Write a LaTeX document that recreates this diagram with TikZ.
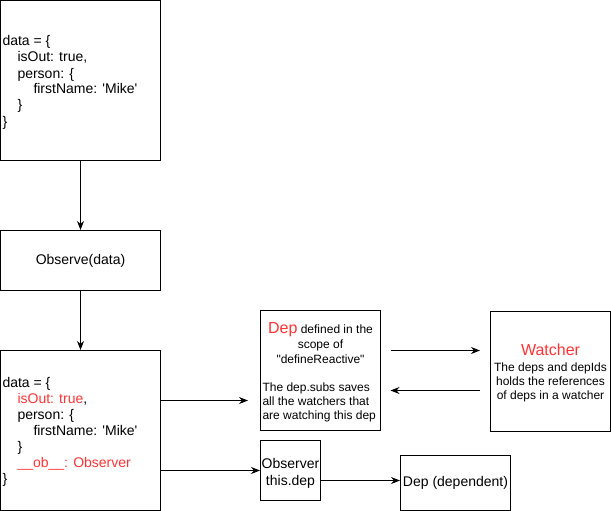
\documentclass[tikz,border=0pt]{standalone}
\usepackage{fontspec}
\setmainfont{Liberation Sans}
\usetikzlibrary{arrows.meta}

\definecolor{obsred}{RGB}{255,51,51}
\newcommand{\codefont}{\fontsize{14pt}{16pt}\selectfont}
\newcommand{\notefont}{\fontsize{12pt}{14pt}\selectfont}
\newcommand{\titlefont}{\fontsize{16pt}{18pt}\selectfont}

\begin{document}
\begin{tikzpicture}[x=1pt,y=-1pt,line width=1pt,
  >={Stealth[length=9pt,width=7pt]},
  box/.style={draw,inner sep=0pt},
  code/.style={inner sep=0pt,anchor=base west,font=\codefont},
  note/.style={inner sep=0pt,anchor=base,font=\notefont}]
  \useasboundingbox (0,0) rectangle (611,511);
  % boxes
  \node[box,minimum width=160pt,minimum height=160pt] at(80.5,80.5)(data1){};
  \node[box,minimum width=160pt,minimum height=60pt,font=\codefont] at(80.5,260.5)(observe){Observe(data)};
  \node[box,minimum width=160pt,minimum height=160pt] at(80.5,430.5)(data2){};
  \node[box,minimum width=120pt,minimum height=120pt] at(320.5,370.5)(dep){};
  \node[box,minimum width=120pt,minimum height=120pt] at(550.5,371.5)(watcher){};
  \node[box,minimum width=60pt,minimum height=60pt] at(290.5,470.5)(observer){};
  \node[box,minimum width=110pt,minimum height=55pt,font=\codefont] at(455.5,483)(dependent){Dep (dependent)};
  % data before observe
  \node[code] at(2,46)(d1a){data = \{};
  \node[code] at(17,62)(d1b){isOut: true,};
  \node[code] at(17,78)(d1c){person: \{};
  \node[code] at(33,94)(d1d){firstName: \textquotesingle Mike\textquotesingle};
  \node[code] at(17,110)(d1e){\}};
  \node[code] at(2,126)(d1f){\}};
  % data after observe
  \node[code] at(2,387)(d2a){data = \{};
  \node[code] at(17,403)(d2b){\textcolor{obsred}{isOut: true},};
  \node[code] at(17,419)(d2c){person: \{};
  \node[code] at(33,435)(d2d){firstName: \textquotesingle Mike\textquotesingle};
  \node[code] at(17,451)(d2e){\}};
  \node[code] at(17,467)(d2f){\textcolor{obsred}{\_\_ob\_\_: Observer}};
  \node[code] at(2,483)(d2g){\}};
  % dep
  \node[note] at(320.5,333)(depa){{\titlefont\textcolor{obsred}{Dep}} defined in the};
  \node[note] at(320.5,348)(depb){scope of};
  \node[note] at(320.5,363)(depc){\textquotedbl defineReactive\textquotedbl};
  \node[note,anchor=base west] at(262,391)(depd){The dep.subs saves};
  \node[note,anchor=base west] at(262,405)(depe){all the watchers that};
  \node[note,anchor=base west] at(262,419)(depf){are watching this dep};
  % watcher
  \node[note,font=\titlefont,text=obsred] at(550.5,355)(wata){Watcher};
  \node[note] at(550.5,371)(watb){The deps and depIds};
  \node[note] at(550.5,385)(watc){holds the references};
  \node[note] at(550.5,399)(watd){of deps in a watcher};
  % observer
  \node[code,anchor=base] at(290.5,468)(obsa){Observer};
  \node[code,anchor=base] at(290.5,485)(obsb){this.dep};
  % arrows
  \coordinate (depin) at(248,400.5);
  \coordinate (watin) at(480,350.5);
  \coordinate (watout) at(480,390.5);
  \coordinate (depgap) at(390.5,350.5);
  \coordinate (depback) at(390.5,390.5);
  \draw[->](data1) -- (observe);
  \draw[->](observe) -- (data2);
  \draw[->](data2.east |- depin) -- (depin);
  \draw[->](data2.east |- observer.west) -- (observer.west);
  \draw[->](depgap) -- (watin);
  \draw[->](watout) -- (depback);
  \draw[->](observer.east |- 0,480.5) -- (dependent.west |- 0,480.5);
\end{tikzpicture}
\end{document}
